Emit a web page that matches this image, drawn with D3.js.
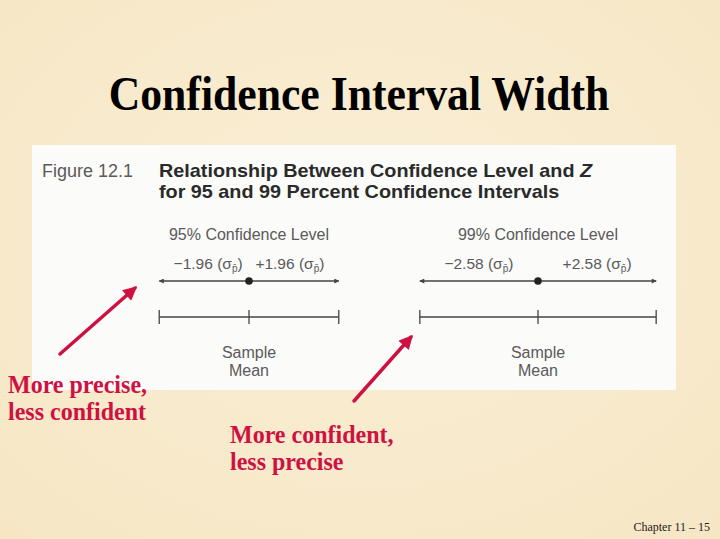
<!DOCTYPE html>
<html>
<head>
<meta charset="utf-8">
<script src="https://cdn.jsdelivr.net/npm/d3@7"></script>
<style>
  html, body { margin: 0; padding: 0; background: #f7e9cb; }
  svg { display: block; }
</style>
</head>
<body>
<svg id="chart" width="720" height="539"></svg>
<script>
// confidence levels and their z multipliers
var levels = ["95% Confidence Level", "99% Confidence Level"];
var zValues = [1.96, 2.58];
var callouts = [["More precise,", "less confident"], ["More confident,", "less precise"]];
var centreLabel = ["Sample", "Mean"];

var svg = d3.select("#chart");
var W = 720, H = 539;
var red = "#cf1142", ink = "#444", grey = "#5a5a5a";

// parchment background
var defs = svg.append("defs");
var bg = defs.append("radialGradient").attr("id", "bg").attr("cx", "50%").attr("cy", "45%").attr("r", "75%");
bg.append("stop").attr("offset", "0%").attr("stop-color", "#faefd6");
bg.append("stop").attr("offset", "100%").attr("stop-color", "#f6e6c4");
svg.append("rect").attr("width", W).attr("height", H).attr("fill", "url(#bg)");

defs.append("marker").attr("id", "tipGrey").attr("viewBox", "0 0 10 10")
    .attr("refX", 9).attr("refY", 5).attr("markerWidth", 7).attr("markerHeight", 5)
    .attr("orient", "auto-start-reverse").attr("markerUnits", "userSpaceOnUse")
    .append("path").attr("d", "M0,0L10,5L0,10z").attr("fill", ink);
defs.append("marker").attr("id", "tipRed").attr("viewBox", "0 0 10 10")
    .attr("refX", 8).attr("refY", 5).attr("markerWidth", 16).attr("markerHeight", 14)
    .attr("orient", "auto").attr("markerUnits", "userSpaceOnUse")
    .append("path").attr("d", "M0,0L10,5L0,10z").attr("fill", red);

// title
svg.append("text")
    .attr("transform", "translate(359,110) scale(0.91,1)")
    .attr("text-anchor", "middle")
    .style("font-family", "'Liberation Serif', 'Times New Roman', serif")
    .style("font-weight", "bold").style("font-size", "48px").attr("fill", "#000")
    .text("Confidence Interval Width");

// figure panel
svg.append("rect").attr("x", 32).attr("y", 145).attr("width", 644).attr("height", 245).attr("fill", "#fbfbf9");

var sans = "'Liberation Sans', Arial, sans-serif";
svg.append("text").attr("x", 42).attr("y", 177)
    .style("font-family", sans).style("font-size", "18px").attr("fill", grey)
    .text("Figure 12.1");
var head = svg.append("text").attr("transform", "translate(159,177) scale(1.1,1)")
    .style("font-family", sans).style("font-size", "18px").style("font-weight", "bold").attr("fill", "#2a2a2a");
head.append("tspan").text("Relationship Between Confidence Level and ");
head.append("tspan").style("font-style", "italic").text("Z");
head.append("tspan").attr("x", 0).attr("dy", 21).text("for 95 and 99 Percent Confidence Intervals");

// scales: panel centres and pixels per standard error
var centre = d3.scalePoint().domain(levels).range([249, 538]);
var sigma = d3.scaleLinear().domain([0, 1]).range([0, 45.8]);

var panels = svg.selectAll("g.level")
    .data(levels.map(function(d, i){ return {name: d, z: zValues[i]}; }))
    .enter().append("g")
    .attr("class", "level")
    .each(function(d){
        var g = d3.select(this);
        var x = d3.scaleLinear().domain([-d.z, d.z])
            .range([centre(d.name) - sigma(d.z), centre(d.name) + sigma(d.z)]);

        g.append("text").attr("x", x(0)).attr("y", 240).attr("text-anchor", "middle")
            .style("font-family", sans).style("font-size", "16px").attr("fill", grey)
            .text(d.name);

        g.selectAll("text.z").data([-d.z, d.z]).enter().append("text")
            .attr("class", "z")
            .attr("x", function(v){ return x(v / 2) - (v > 0 ? 4 : -4) * (d.z < 2 ? 1 : 0); })
            .attr("y", 269).attr("text-anchor", "middle")
            .style("font-family", sans).style("font-size", "15.5px").attr("fill", grey)
            .each(function(v){
                var t = d3.select(this);
                t.append("tspan").text((v < 0 ? "\u2212" : "+") + Math.abs(v).toFixed(2) + " (\u03c3");
                t.append("tspan").attr("dy", 3).style("font-size", "10px").text("p\u0304");
                t.append("tspan").attr("dy", -3).text(")");
            });

        // arrowed line with the sample mean dot
        g.append("line").attr("x1", x(0)).attr("x2", x(-d.z)).attr("y1", 281).attr("y2", 281)
            .attr("stroke", ink).attr("stroke-width", 1.4).attr("marker-end", "url(#tipGrey)");
        g.append("line").attr("x1", x(0)).attr("x2", x(d.z)).attr("y1", 281).attr("y2", 281)
            .attr("stroke", ink).attr("stroke-width", 1.4).attr("marker-end", "url(#tipGrey)");
        g.append("circle").attr("cx", x(0)).attr("cy", 281).attr("r", 3.8).attr("fill", "#222");

        // interval bracket
        g.append("line").attr("x1", x(-d.z)).attr("x2", x(d.z)).attr("y1", 317).attr("y2", 317)
            .attr("stroke", ink).attr("stroke-width", 1.4);
        g.selectAll("line.tick").data([-d.z, 0, d.z]).enter().append("line")
            .attr("class", "tick")
            .attr("x1", function(v){ return x(v); }).attr("x2", function(v){ return x(v); })
            .attr("y1", 310).attr("y2", 324)
            .attr("stroke", ink).attr("stroke-width", 1.3);

        g.selectAll("text.mean").data(centreLabel).enter().append("text")
            .attr("class", "mean")
            .attr("x", x(0)).attr("y", function(t, i){ return 358 + i * 18; })
            .attr("text-anchor", "middle")
            .style("font-family", sans).style("font-size", "16px").attr("fill", grey)
            .text(function(t){ return t; });
    });

// red callout arrows pointing at each interval
var arrows = [[60, 354, 135, 288], [354, 401, 411, 337]];
svg.selectAll("line.call").data(arrows).enter().append("line")
    .attr("class", "call")
    .attr("x1", function(a){ return a[0]; }).attr("y1", function(a){ return a[1]; })
    .attr("x2", function(a){ return a[2]; }).attr("y2", function(a){ return a[3]; })
    .attr("stroke", red).attr("stroke-width", 3.5).attr("stroke-linecap", "round")
    .attr("marker-end", "url(#tipRed)");

var calloutPos = [[8, 393], [230, 443]];
svg.selectAll("text.callout").data(callouts).enter().append("text")
    .attr("class", "callout")
    .attr("transform", function(c, i){ return "translate(" + calloutPos[i][0] + "," + calloutPos[i][1] + ") scale(0.96,1)"; })
    .style("font-family", "'Liberation Serif', 'Times New Roman', serif")
    .style("font-weight", "bold").style("font-size", "25px").attr("fill", red)
    .each(function(c){
        var t = d3.select(this);
        c.forEach(function(line, i){
            t.append("tspan").attr("x", 0).attr("dy", i ? 27 : 0).text(line);
        });
    });

svg.append("text").attr("x", 710).attr("y", 531).attr("text-anchor", "end")
    .style("font-family", "'Liberation Serif', 'Times New Roman', serif")
    .style("font-size", "12px").attr("fill", "#222")
    .text("Chapter 11 \u2013 15");
</script>
</body>
</html>
